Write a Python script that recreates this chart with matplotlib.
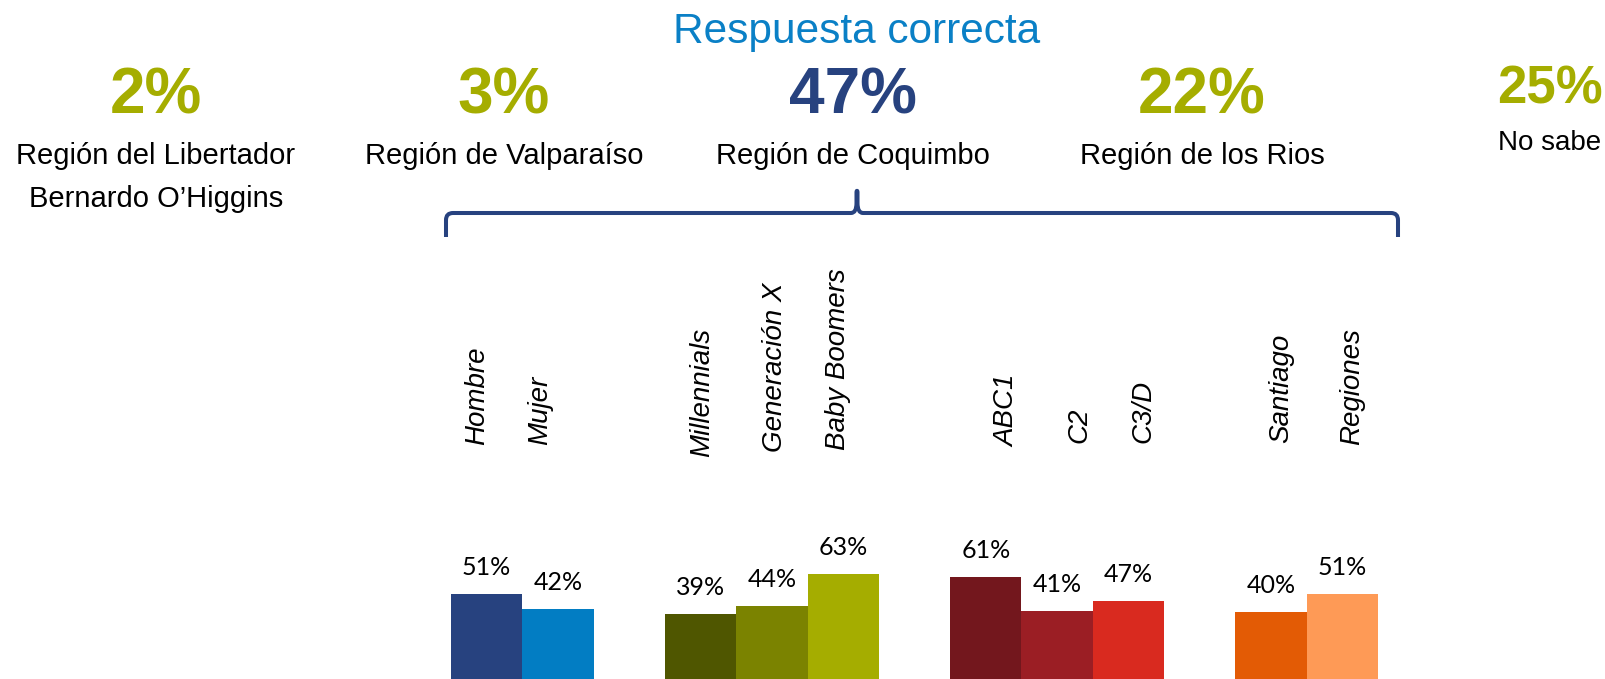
import matplotlib
matplotlib.use("Agg")
import matplotlib.pyplot as plt
from matplotlib.path import Path
from matplotlib.patches import PathPatch

# ---------------- data ----------------
title = "Respuesta correcta"
headline_values = [2, 3, 47, 22, 25]
headline_labels = ["Región del Libertador\nBernardo O’Higgins",
                   "Región de Valparaíso",
                   "Región de Coquimbo",
                   "Región de los Rios",
                   "No sabe"]

groups = [
    ["Hombre", "Mujer"],
    ["Millennials", "Generación X", "Baby Boomers"],
    ["ABC1", "C2", "C3/D"],
    ["Santiago", "Regiones"],
]
group_values = [
    [51, 42],
    [39, 44, 63],
    [61, 41, 47],
    [40, 51],
]

# ---------------- style ----------------
W, H = 1606, 679
green = "#a5ad00"
navy = "#27427f"
blue = "#0a80c6"
headline_colors = [green, green, navy, green, green]
headline_x = [156, 504, 853, 1202, 1550]
headline_base = [114, 114, 114, 114, 104]
headline_size = [46, 46, 46, 46, 38]
sub_base = [164, 164, 164, 164, 150]
sub_size = [21, 21, 21, 21, 20]
group_colors = [
    ["#27427f", "#027dc3"],
    ["#4f5600", "#7b8300", "#a5ad00"],
    ["#73171d", "#9b1e24", "#d92a1f"],
    ["#e35b05", "#fe9a56"],
]
label_dx = [-10, -18, 2, 3, -5, 22, 22, 15, 10, 10]   # px nudges of rotated labels
label_bottom = [445, 445, 457, 452, 450, 447, 443, 443, 443, 445]

plt.rcParams['font.family'] = ['Liberation Sans', 'DejaVu Sans']

fig = plt.figure(figsize=(W / 100, H / 100), dpi=100)
fig.patch.set_facecolor("white")


def F(x, y):
    """pixel (from top-left) -> figure fraction"""
    return x / W, 1 - y / H


# title
fig.text(*F(857, 43), title, ha="center", va="baseline",
         fontsize=30.5, color=blue)

# headline numbers + labels
for i, (v, lab) in enumerate(zip(headline_values, headline_labels)):
    fig.text(*F(headline_x[i], headline_base[i]), f"{v}%", ha="center",
             va="baseline", fontsize=headline_size[i], fontweight="bold",
             color=headline_colors[i])
    for j, line in enumerate(lab.split("\n")):
        fig.text(*F(headline_x[i], sub_base[i] + 43 * j), line, ha="center",
                 va="baseline", fontsize=sub_size[i], color="black")

# bracket
bx0, bx1, bxc, by, btop, bend = 446, 1398, 857, 213, 190, 237
r = 7
verts = [
    F(bx0, bend), F(bx0, by + r), F(bx0, by), F(bx0 + r, by),
    F(bxc - 6, by), F(bxc - 0.5, by), F(bxc - 0.5, by - 10),
    F(bxc - 0.5, btop + 2), F(bxc, btop - 1), F(bxc + 0.5, btop + 2),
    F(bxc + 0.5, by - 10), F(bxc + 0.5, by), F(bxc + 6, by),
    F(bx1 - r, by), F(bx1, by), F(bx1, by + r), F(bx1, bend),
]
codes = [Path.MOVETO, Path.LINETO, Path.CURVE3, Path.CURVE3,
         Path.LINETO, Path.CURVE3, Path.CURVE3,
         Path.LINETO, Path.CURVE3, Path.CURVE3,
         Path.LINETO, Path.CURVE3, Path.CURVE3,
         Path.LINETO, Path.CURVE3, Path.CURVE3, Path.LINETO]
fig.patches.append(PathPatch(Path(verts, codes), transform=fig.transFigure,
                             fill=False, edgecolor=navy, lw=2.9,
                             joinstyle="round", capstyle="butt"))

# bars
slot_px = (1378 - 451) / 13.0
ax_left = 451
ymax = 100
px_per_unit = 1.667
ax = fig.add_axes([ax_left / W, 0, 13 * slot_px / W, ymax * px_per_unit / H])
ax.set_xlim(-0.5, 12.5)
ax.set_ylim(0, ymax)
ax.axis("off")

pos = 0
k = 0
for g, vals, cols in zip(groups, group_values, group_colors):
    for name, v, c in zip(g, vals, cols):
        ax.bar(pos, v, width=1.0, color=c, linewidth=0)
        ax.annotate(f"{v}%", (pos, v), xytext=(0, 13.7),
                    textcoords="offset points", ha="center", va="baseline",
                    fontsize=18, family=["Lato", "DejaVu Sans"], color="black")
        xpx = ax_left + (pos + 0.5) * slot_px + label_dx[k]
        fig.text(*F(xpx, label_bottom[k]), name, rotation=90, ha="center",
                 va="bottom", fontsize=20, style="italic", color="black")
        pos += 1
        k += 1
    pos += 1

fig.savefig("out.png", dpi=100, facecolor="white")
